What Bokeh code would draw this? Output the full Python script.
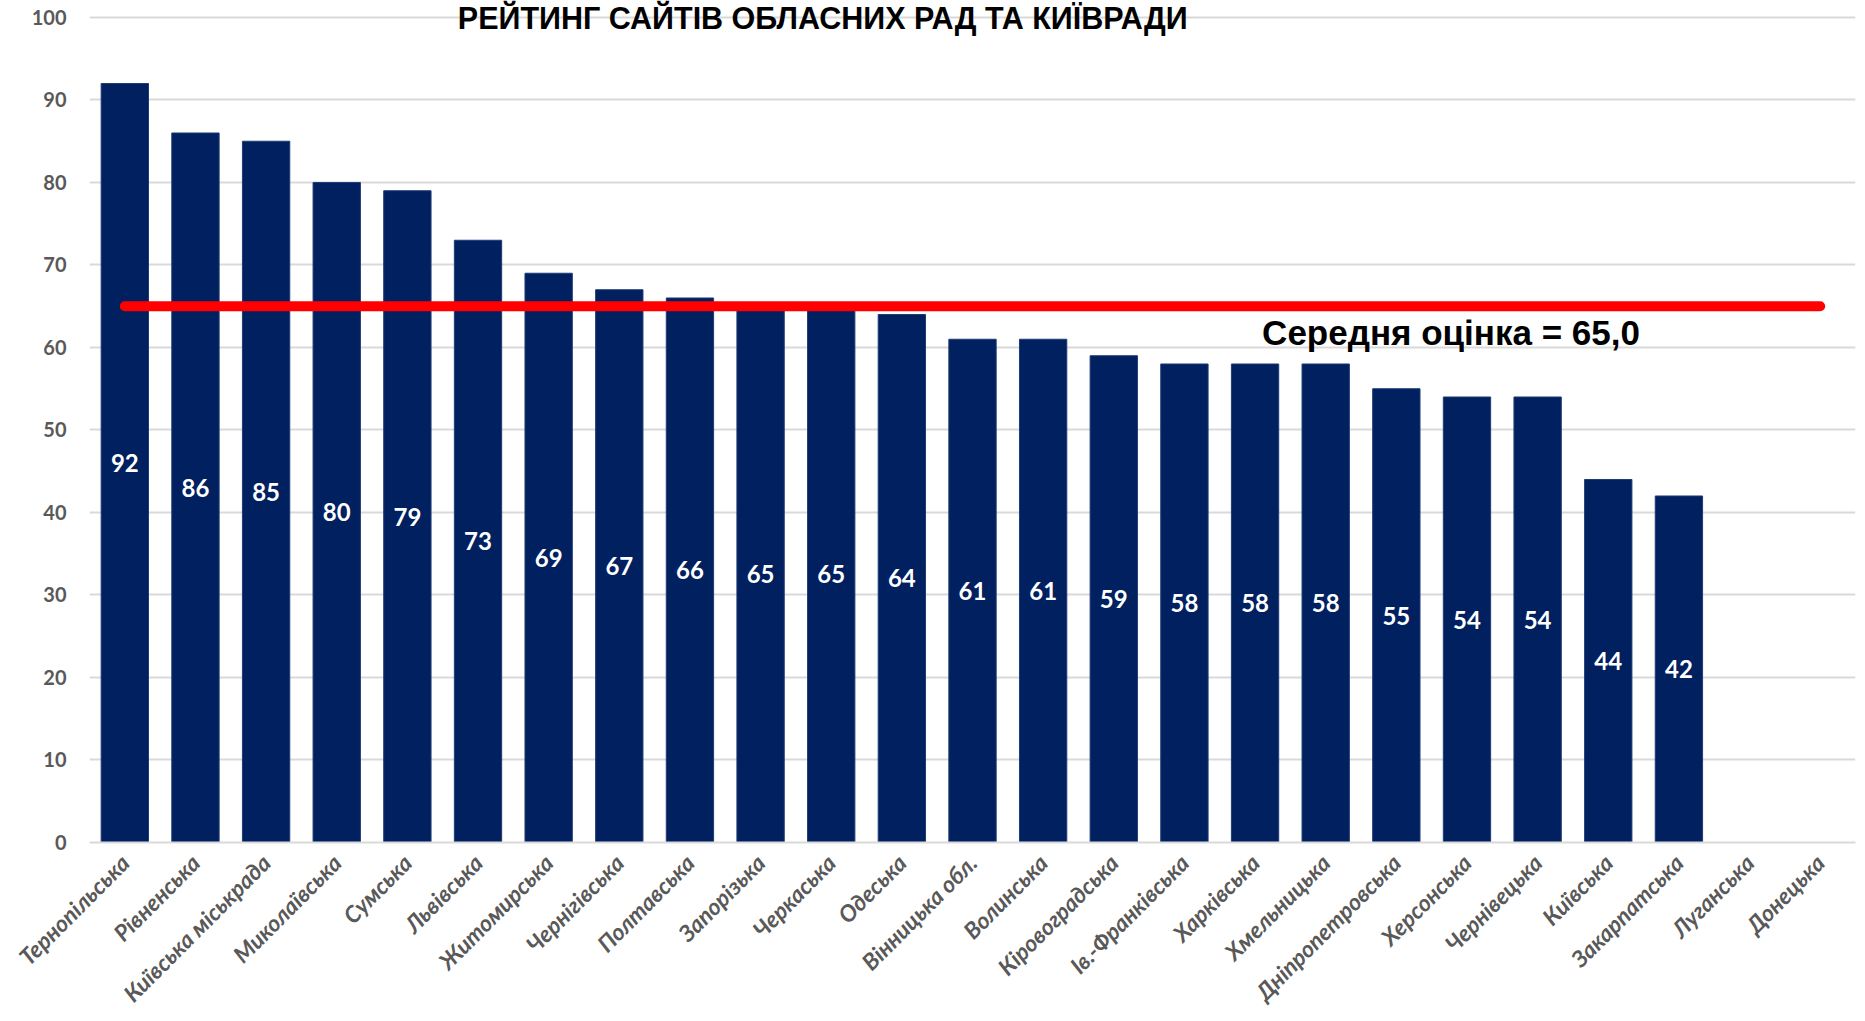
from bokeh.plotting import figure
from bokeh.models import FactorRange, Range1d, Label, ColumnDataSource, FixedTicker
from bokeh.core.properties import value
from bokeh.embed import file_html
from bokeh.resources import INLINE

categories = ["Тернопільська", "Рівненська", "Київська міськрада", "Миколаївська", "Сумська",
              "Львівська", "Житомирська", "Чернігівська", "Полтавська", "Запорізька",
              "Черкаська", "Одеська", "Вінницька обл.", "Волинська", "Кіровоградська",
              "Ів.-Франківська", "Харківська", "Хмельницька", "Дніпропетровська", "Херсонська",
              "Чернівецька", "Київська", "Закарпатська", "Луганська", "Донецька"]
scores = [92, 86, 85, 80, 79, 73, 69, 67, 66, 65, 65, 64, 61, 61, 59, 58, 58, 58, 55, 54, 54, 44, 42]
y_ticks = [0, 10, 20, 30, 40, 50, 60, 70, 80, 90, 100]
title_text = "РЕЙТИНГ САЙТІВ ОБЛАСНИХ РАД ТА КИЇВРАДИ"

avg = sum(scores) / len(scores)
avg_text = "Середня оцінка = " + f"{avg:.1f}".replace(".", ",")

src = ColumnDataSource(dict(
    cat=categories[:len(scores)],
    score=scores,
    mid=[s / 2 for s in scores],
    lbl=[str(s) for s in scores],
))

p = figure(x_range=FactorRange(factors=categories, range_padding=0),
           y_range=Range1d(0, 102.06),
           width=1857, height=1020, output_backend="svg", toolbar_location=None,
           min_border_left=89, min_border_right=2, min_border_top=0, min_border_bottom=150)
p.outline_line_color = None
p.background_fill_color = "white"

p.vbar(x="cat", top="score", width=0.67, source=src, fill_color="#002060", line_color="#1f3a75", line_width=1)
p.text(x="cat", y="mid", text="lbl", source=src, text_align="center", text_baseline="middle",
       text_color="white", text_font=value("Lato"), text_font_style="bold", text_font_size="24px")

p.line(x=[categories[0], categories[-1]], y=[avg, avg], line_color="#ff0000", line_width=10, line_cap="round")

p.add_layout(Label(x=16.6, y=61.8, text=avg_text, text_font="Liberation Sans", text_font_style="bold",
                   text_font_size="35px", text_color="black", text_baseline="alphabetic"))
p.add_layout(Label(x=10.38, y=99.9, text=title_text, text_font="Liberation Sans", text_font_style="bold",
                   text_font_size="30.5px", text_color="black", text_align="center", text_baseline="alphabetic"))

p.xgrid.grid_line_color = None
p.ygrid.grid_line_color = "#d9d9d9"
p.ygrid.grid_line_width = 2
p.yaxis.ticker = FixedTicker(ticks=y_ticks)
p.yaxis.axis_line_color = None
p.yaxis.major_tick_line_color = None
p.yaxis.major_tick_out = 0
p.yaxis.minor_tick_line_color = None
p.yaxis.minor_tick_out = 0
p.yaxis.major_label_standoff = 23
p.yaxis.major_label_text_font = "Lato"
p.yaxis.major_label_text_font_style = "bold"
p.yaxis.major_label_text_font_size = "20px"
p.yaxis.major_label_text_color = "#595959"

p.xaxis.axis_line_color = "#d9d9d9"
p.xaxis.axis_line_width = 2
p.xaxis.major_tick_line_color = None
p.xaxis.major_tick_out = 0
p.xaxis.minor_tick_line_color = None
p.xaxis.minor_tick_out = 0
p.xaxis.major_label_orientation = 0.785398
p.xaxis.major_label_standoff = 16
p.xaxis.major_label_text_font = "Lato"
p.xaxis.major_label_text_font_style = "bold italic"
p.xaxis.major_label_text_font_size = "23px"
p.xaxis.major_label_text_color = "#595959"

open("out.html", "w").write(file_html(p, INLINE))
